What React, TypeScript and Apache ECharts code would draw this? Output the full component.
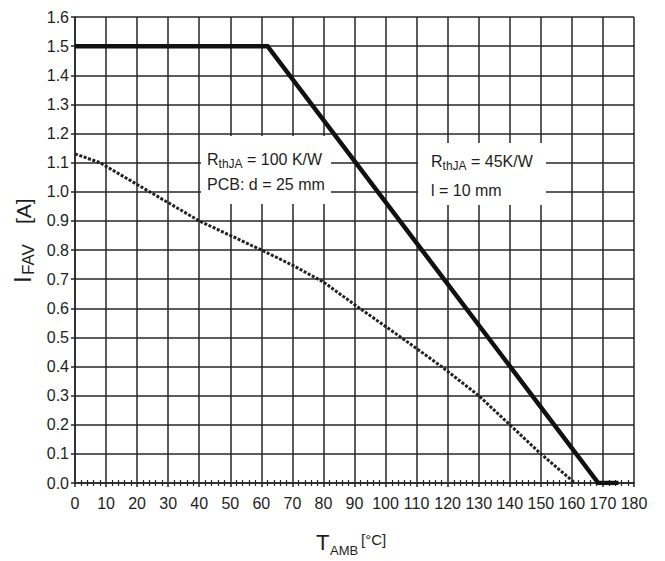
import React, { useEffect, useRef } from 'react';
import * as echarts from 'echarts';

// Data
const solidT = [0, 62, 168.5, 175];
const solidI = [1.5, 1.5, 0, 0];
const dashT = [0, 8, 24, 40, 60, 70, 80, 91, 105, 118, 130, 140, 150, 161];
const dashI = [1.13, 1.1, 1.0, 0.9, 0.8, 0.748, 0.69, 0.605, 0.5, 0.4, 0.3, 0.2, 0.1, 0];

const xMin = 0;
const xMax = 180;
const xStep = 10;
const yMin = 0;
const yMax = 1.6;
const yStep = 0.1;

const ann1Line1 = ['R', 'thJA', ' = 100 K/W'];
const ann1Line2 = 'PCB: d = 25 mm';
const ann2Line1 = ['R', 'thJA', ' = 45K/W'];
const ann2Line2 = 'l = 10 mm';
const xTitle = ['T', 'AMB', '[°C]'];
const yTitle = ['I', 'FAV', '[A]'];

const FONT = "'Liberation Sans', Arial, sans-serif";
const INK = '#1e1e1e';
const GRID = '#262626';

function richLine(parts: string[], x: number, y: number) {
  return {
    type: 'text',
    x,
    y,
    z: 10,
    style: {
      text: `{a|${parts[0]}}{b|${parts[1]}}{a|${parts[2]}}`,
      fill: INK,
      textAlign: 'left',
      textVerticalAlign: 'top',
      verticalAlign: 'top',
      rich: {
        a: { fontSize: 16, fontFamily: FONT, lineHeight: 22, fill: INK },
        b: { fontSize: 12, fontFamily: FONT, lineHeight: 11, verticalAlign: 'bottom', fill: INK },
      },
    },
  };
}

function plainText(text: string, x: number, y: number, size: number, rotation = 0) {
  return {
    type: 'text',
    x,
    y,
    z: 10,
    rotation,
    style: {
      text,
      fill: INK,
      fontSize: size,
      fontFamily: FONT,
      textAlign: 'left',
      textVerticalAlign: 'middle',
      verticalAlign: 'middle',
    },
  };
}

export default function App() {
  const ref = useRef<HTMLDivElement>(null);

  useEffect(() => {
    if (!ref.current) return;
    const chart = echarts.init(ref.current, undefined, { renderer: 'svg' });

    const solidData = solidT.map((t, i) => [t, solidI[i]]);
    const dashData = dashT.map((t, i) => [t, dashI[i]]);

    const option: any = {
      animation: false,
      backgroundColor: '#fff',
      grid: { left: 75, right: 31, top: 17, bottom: 78, containLabel: false },
      xAxis: [
        {
          type: 'value',
          min: xMin,
          max: xMax,
          interval: xStep,
          axisLine: { show: true, lineStyle: { color: GRID, width: 1.5 } },
          axisTick: { show: true, inside: false, length: 4, lineStyle: { color: GRID, width: 1.5 } },
          minorTick: { show: true, splitNumber: 5, length: 3, lineStyle: { color: GRID, width: 1.2 } },
          splitLine: { show: true, lineStyle: { color: GRID, width: 1.5 } },
          axisLabel: { color: INK, fontSize: 16, fontFamily: FONT, margin: 12 },
        },
        {
          type: 'value',
          min: xMin,
          max: xMax,
          interval: xStep,
          position: 'bottom',
          axisLine: { show: false },
          axisTick: { show: false, inside: true },
          minorTick: { show: true, splitNumber: 5, length: 3, lineStyle: { color: GRID, width: 1.2 } },
          splitLine: { show: false },
          axisLabel: { show: false },
        },
      ],
      yAxis: {
        type: 'value',
        min: yMin,
        max: yMax,
        interval: yStep,
        axisLine: { show: true, lineStyle: { color: GRID, width: 1.5 } },
        axisTick: { show: true, inside: false, length: 4, lineStyle: { color: GRID, width: 1.5 } },
        splitLine: { show: true, lineStyle: { color: GRID, width: 1.5 } },
        axisLabel: {
          color: INK,
          fontSize: 16,
          fontFamily: FONT,
          margin: 6,
          formatter: (v: number) => v.toFixed(1),
        },
      },
      series: [
        {
          type: 'line',
          data: solidData,
          symbol: 'none',
          z: 5,
          lineStyle: { color: '#111', width: 4.5, join: 'miter' },
        },
        {
          type: 'line',
          data: dashData,
          symbol: 'none',
          z: 5,
          lineStyle: { color: '#222', width: 3, type: [3, 1.6] },
        },
      ],
      graphic: [
        { type: 'rect', z: 4, shape: { x: 201, y: 136, width: 130, height: 68 }, style: { fill: '#fff' } },
        { type: 'rect', z: 4, shape: { x: 418, y: 143, width: 128, height: 62 }, style: { fill: '#fff' } },
        richLine(ann1Line1, 207, 148),
        {
          type: 'text', x: 207, y: 176, z: 10,
          style: { text: ann1Line2, fill: INK, fontSize: 16, fontFamily: FONT, textVerticalAlign: 'top', verticalAlign: 'top' },
        },
        richLine(ann2Line1, 431, 150),
        {
          type: 'text', x: 431, y: 182, z: 10,
          style: { text: ann2Line2, fill: INK, fontSize: 16, fontFamily: FONT, textVerticalAlign: 'top', verticalAlign: 'top' },
        },
        plainText(xTitle[0], 316, 542.5, 22),
        plainText(xTitle[1], 330, 550, 13),
        plainText(xTitle[2], 361, 539.5, 15),
        plainText(yTitle[0], 22.5, 283, 24, Math.PI / 2),
        plainText(yTitle[1], 28, 275, 17, Math.PI / 2),
        plainText(yTitle[2], 23, 224, 21, Math.PI / 2),
      ],
    };

    chart.setOption(option);
    return () => chart.dispose();
  }, []);

  return (
    <div
      ref={ref}
      style={{ position: 'fixed', left: 0, top: 0, width: 665, height: 561, background: '#fff' }}
    />
  );
}
